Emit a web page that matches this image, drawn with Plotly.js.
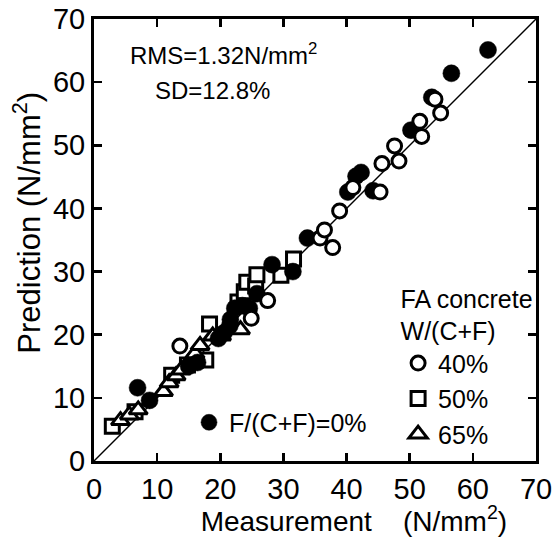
<!DOCTYPE html>
<html>
<head>
<meta charset="utf-8">
<script src="https://cdn.plot.ly/plotly-3.0.1.min.js"></script>
<style>html,body{margin:0;padding:0;background:#fff;}#chart{width:557px;height:537px;}</style>
</head>
<body>
<div id="chart"></div>
<script>
// F/(C+F)=0% (filled circles)
const fa0X = [6.9, 8.8, 15.0, 16.4, 19.7, 20.6, 21.5, 21.6, 22.3, 23.5, 24.6, 25.8, 28.2, 31.5, 33.8, 40.2, 41.5, 42.3, 44.2, 50.2, 53.5, 56.6, 62.4];
const fa0Y = [11.6, 9.6, 15.0, 15.6, 19.4, 20.3, 21.4, 22.4, 24.2, 24.6, 24.2, 26.5, 31.1, 30.0, 35.3, 42.6, 45.1, 45.7, 42.8, 52.4, 57.6, 61.4, 65.1];
// W/(C+F)=40% (open circles)
const w40X = [13.6, 24.9, 27.5, 35.8, 36.5, 37.8, 38.9, 41.0, 45.3, 45.6, 47.6, 48.3, 51.6, 51.9, 54.0, 54.9];
const w40Y = [18.2, 22.6, 25.4, 35.3, 36.6, 33.8, 39.6, 43.3, 42.6, 47.1, 49.9, 47.5, 53.8, 51.4, 57.3, 55.1];
// W/(C+F)=50% (open squares)
const w50X = [2.9, 6.5, 12.3, 14.8, 17.7, 18.3, 22.8, 23.8, 24.2, 25.6, 25.8, 29.6, 31.6];
const w50Y = [5.5, 7.8, 13.6, 15.2, 16.0, 21.7, 25.2, 26.8, 28.3, 27.7, 29.5, 29.4, 32.0];
// W/(C+F)=65% (open triangles)
const w65X = [4.2, 5.6, 7.0, 11.0, 11.9, 13.0, 13.8, 15.3, 16.0, 16.8, 18.8, 20.2, 21.0, 23.2];
const w65Y = [6.4, 7.3, 8.1, 11.0, 12.4, 13.5, 14.4, 16.0, 17.0, 18.3, 19.8, 19.8, 21.0, 20.8];
// 1:1 line
const lineX = [0, 70];
const lineY = [0, 70];
const tickVals = [0, 10, 20, 30, 40, 50, 60, 70];

const FONT = 'Arial, "Liberation Sans", sans-serif';
const openLine = {color: '#000', width: 3};
const NB = '\u00a0';
const ZW = '\u200b';

const traces = [
  {x: lineX, y: lineY, mode: 'lines', line: {color: '#000', width: 1.4}, showlegend: false, hoverinfo: 'skip'},
  {x: w50X, y: w50Y, mode: 'markers', name: '50%', legend: 'legend', legendrank: 2,
   marker: {symbol: 'square', size: 14, color: '#fff', line: openLine}},
  {x: w65X, y: w65Y, mode: 'markers', name: '65%', legend: 'legend', legendrank: 3,
   marker: {symbol: 'triangle-up', size: 16, color: '#fff', line: openLine}},
  {x: fa0X, y: fa0Y, mode: 'markers', name: 'F/(C+F)=0%', legend: 'legend2',
   marker: {symbol: 'circle', size: 17, color: '#000', line: {color: '#000', width: 0.5}}},
  {x: w40X, y: w40Y, mode: 'markers', name: '40%', legend: 'legend', legendrank: 1,
   marker: {symbol: 'circle', size: 14, color: '#fff', line: openLine}}
];

const axisCommon = {
  range: [0, 70], tickvals: tickVals, ticks: 'inside', ticklen: 8, tickwidth: 2.5,
  tickcolor: '#000', showline: true, linewidth: 3, linecolor: '#000', mirror: 'ticks',
  showgrid: false, zeroline: false, tickfont: {family: FONT, size: 29, color: '#000'},
  fixedrange: true
};

const layout = {
  width: 557, height: 537,
  margin: {l: 94, r: 21, t: 19, b: 76},
  paper_bgcolor: '#fff', plot_bgcolor: '#fff',
  font: {family: FONT, color: '#000'},
  xaxis: Object.assign({}, axisCommon, {
    title: {text: ZW + NB.repeat(10) + 'Measurement' + NB.repeat(4) + '(N/mm<sup>2</sup>)', font: {family: FONT, size: 28, color: '#000'}, standoff: 6}
  }),
  yaxis: Object.assign({}, axisCommon, {
    title: {text: ZW + NB.repeat(4) + 'Prediction (N/mm<sup>2</sup>)', font: {family: FONT, size: 31, color: '#000'}, standoff: 4}
  }),
  legend: {
    x: 0.688, y: 0.42, xanchor: 'left', yanchor: 'top',
    bgcolor: 'rgba(0,0,0,0)', borderwidth: 0,
    font: {family: FONT, size: 25, color: '#000'},
    title: {text: 'FA concrete<br>W/(C+F)', side: 'top center', font: {family: FONT, size: 25, color: '#000'}},
    traceorder: 'normal', itemclick: false, itemdoubleclick: false
  },
  legend2: {
    x: 0.215, y: 0.087, xanchor: 'left', yanchor: 'middle',
    bgcolor: 'rgba(0,0,0,0)', borderwidth: 0,
    font: {family: FONT, size: 25, color: '#000'},
    itemclick: false, itemdoubleclick: false
  },
  annotations: [
    {xref: 'x', yref: 'y', x: 5.4, y: 64.5, xanchor: 'left', yanchor: 'middle', showarrow: false,
     text: 'RMS=1.32N/mm<sup>2</sup>', font: {family: FONT, size: 24, color: '#000'}},
    {xref: 'x', yref: 'y', x: 9.4, y: 58.6, xanchor: 'left', yanchor: 'middle', showarrow: false,
     text: 'SD=12.8%', font: {family: FONT, size: 24, color: '#000'}}
  ],
  showlegend: true
};

Plotly.newPlot('chart', traces, layout, {displayModeBar: false, staticPlot: true});
</script>
</body>
</html>
